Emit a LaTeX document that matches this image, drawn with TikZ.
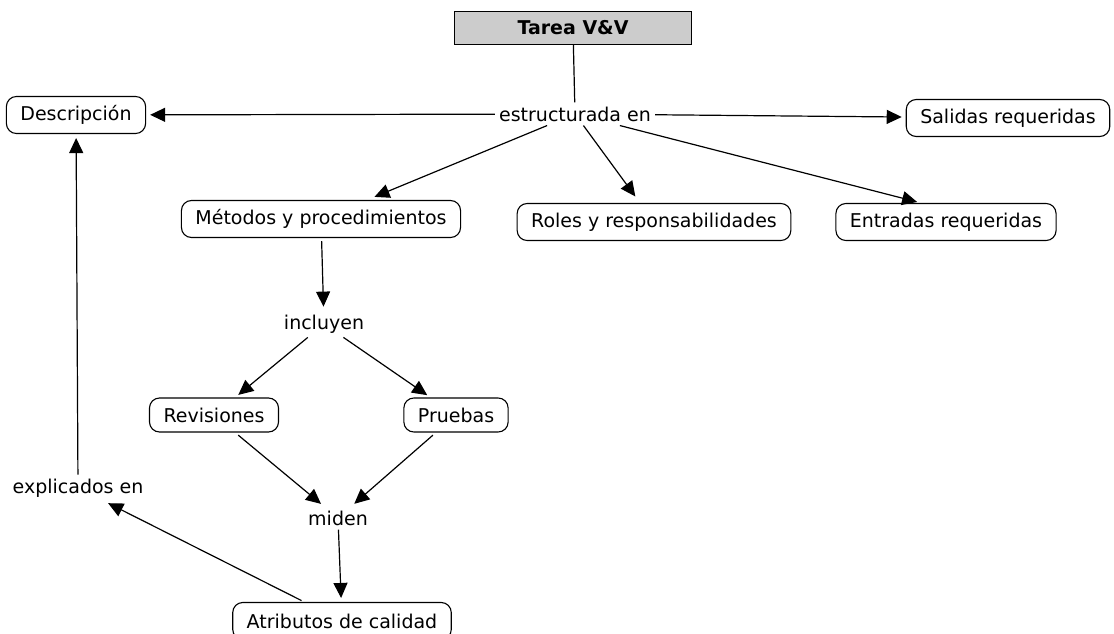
\documentclass[tikz,border=0pt]{standalone}
\usepackage{fontspec}
\setmainfont{DejaVu Sans}
\usetikzlibrary{arrows.meta}
\newcommand{\mapfont}{\fontsize{19}{22}\selectfont}

\begin{document}
\begin{tikzpicture}[x=1pt, y=-1pt, >={Triangle[length=15pt,width=14pt]},
    every node/.style={font=\mapfont},
    concept/.style={draw, line width=1.1pt, rounded corners=10pt, inner xsep=14pt, minimum height=37pt},
    linkword/.style={inner sep=4pt},
    link/.style={->, line width=1.2pt, shorten >=4pt}]
        \useasboundingbox (0,0) rectangle (1114,634);
        % top concept
        \node [draw, line width=1.2pt, fill=gray!40, minimum width=237pt, minimum height=33pt, font=\mapfont\bfseries] (tarea) at (573,28) {Tarea V\&V};
        \node [linkword] (estructurada) at (575,114) {estructurada en};
        % first row
        \node [concept] (descripcion) at (76,115) {Descripción};
        \node [concept] (salidas) at (1008,118) {Salidas requeridas};
        \node [concept] (metodos) at (321,219) {Métodos y procedimientos};
        \node [concept] (roles) at (654,222) {Roles y responsabilidades};
        \node [concept] (entradas) at (946,222) {Entradas requeridas};
        % lower part
        \node [linkword] (incluyen) at (324,324) {incluyen};
        \node [concept, minimum height=34pt] (revisiones) at (214,415) {Revisiones};
        \node [concept, minimum height=34pt] (pruebas) at (456,415) {Pruebas};
        \node [linkword] (miden) at (338,518) {miden};
        \node [linkword] (explicados) at (78,488) {explicados en};
        \node [concept] (atributos) at (342,621) {Atributos de calidad};

        \draw [line width=1.2pt] (tarea) -- (estructurada);
        \draw [link] (estructurada) -- (descripcion);
        \draw [link] (estructurada) -- (salidas);
        \draw [link, shorten >=8pt] (estructurada) -- (metodos);
        \draw [link, shorten >=8pt] (estructurada) -- (roles);
        \draw [link] (estructurada) -- ([xshift=-25pt]entradas.north);
        \draw [link, shorten <=3pt] (metodos) -- (incluyen);
        \draw [link] (incluyen) -- (revisiones);
        \draw [link] (incluyen) -- (pruebas);
        \draw [link, shorten <=4pt] (revisiones) -- (miden);
        \draw [link, shorten <=4pt] (pruebas) -- (miden);
        \draw [link] (miden) -- (atributos);
        \draw [link, shorten <=3pt] (atributos) -- (explicados);
        \draw [link] (explicados) -- (descripcion);
\end{tikzpicture}
\end{document}
